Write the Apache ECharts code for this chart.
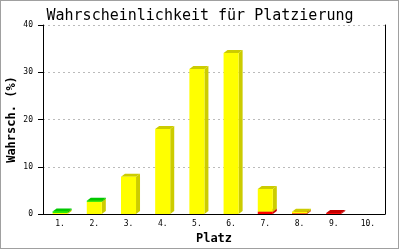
<!DOCTYPE html>
<html>
<head>
<meta charset="utf-8">
<script src="https://cdn.jsdelivr.net/npm/echarts@6/dist/echarts.min.js"></script>
<style>
  html, body { margin: 0; padding: 0; background: #fff; }
  #frame { position: absolute; left: 0; top: 0; width: 397px; height: 247px; border: 1px solid #a0a0a0; }
  #chart { position: absolute; left: 0; top: 0; width: 400px; height: 250px; }
</style>
</head>
<body>
<div id="frame"></div>
<div id="chart"></div>
<script>
// ---- data ----
const categories = ['1.', '2.', '3.', '4.', '5.', '6.', '7.', '8.', '9.', '10.'];
const redValues    = [0,   0,   0,   0,    0,    0,    0.5, 0.15, 0.2, 0];
const yellowValues = [0.25, 2.6, 7.9, 18.0, 30.7, 34.1, 4.8, 0.35, 0,   0];
const greenValues  = [0.3, 0.2, 0,   0,    0,    0,    0,   0,    0,   0];
const yTicks = [0, 10, 20, 30, 40];

const chart = echarts.init(document.getElementById('chart'), null, { renderer: 'canvas' });

const stackOrder = [
  { name: 'rot',  values: redValues,    front: '#ff0000', dark: '#c80000' },
  { name: 'gelb', values: yellowValues, front: '#ffff00', dark: '#cccc00' },
  { name: 'grün', values: greenValues,  front: '#00ee00', dark: '#00c800' }
];

const DX = 4, DY = 3;

function makeSeries(s, idx) {
  const data = categories.map((c, i) => {
    let base = 0;
    for (let k = 0; k < idx; k++) base += stackOrder[k].values[i];
    return [i, base, s.values[i]];
  });
  return {
    type: 'custom',
    name: s.name,
    encode: { x: 0, y: 1 },
    data: data,
    z: 2 + idx,
    renderItem: function (params, api) {
      const i = api.value(0), base = api.value(1), v = api.value(2);
      if (!(v > 0)) return null;
      const p0 = api.coord([i, base]);
      const p1 = api.coord([i, base + v]);
      const bw = api.size([1, 0])[0] * 0.44;
      const x0 = p0[0] - bw / 2, x1 = x0 + bw;
      const yb = p0[1], yt = p1[1];
      return {
        type: 'group',
        children: [
          { type: 'polygon', shape: { points: [[x1, yb], [x1 + DX, yb - DY], [x1 + DX, yt - DY], [x1, yt]] },
            style: { fill: s.dark } },
          { type: 'polygon', shape: { points: [[x0, yt], [x0 + DX, yt - DY], [x1 + DX, yt - DY], [x1, yt]] },
            style: { fill: s.dark } },
          { type: 'rect', shape: { x: x0, y: yt, width: bw, height: Math.max(yb - yt, 0.5) },
            style: { fill: s.front } }
        ]
      };
    }
  };
}

const mono = 'DejaVu Sans Mono';

chart.setOption({
  animation: false,
  backgroundColor: 'transparent',
  title: {
    text: 'Wahrscheinlichkeit für Platzierung',
    left: 'center',
    top: 4,
    textStyle: { fontFamily: mono, fontSize: 15, fontWeight: 'normal', color: '#000' }
  },
  grid: { left: 43, right: 15, top: 25, bottom: 36, containLabel: false, outerBoundsMode: 'none' },
  xAxis: {
    type: 'category',
    data: categories,
    name: 'Platz',
    nameLocation: 'middle',
    nameGap: 19,
    nameMoveOverlap: false,
    nameTextStyle: { fontFamily: mono, fontSize: 12, fontWeight: 'bold', color: '#000' },
    axisLine: { show: true, lineStyle: { color: '#000', width: 1 } },
    axisTick: { show: false },
    axisLabel: { fontFamily: mono, fontSize: 8, color: '#000', margin: 6 },
    splitLine: { show: false }
  },
  yAxis: [
    {
      type: 'value',
      min: yTicks[0],
      max: yTicks[yTicks.length - 1],
      interval: 10,
      name: 'Wahrsch. (%)',
      nameLocation: 'middle',
      nameGap: 25,
      nameMoveOverlap: false,
      nameTextStyle: { fontFamily: mono, fontSize: 12, fontWeight: 'bold', color: '#000' },
      axisLine: { show: true, lineStyle: { color: '#000', width: 1 } },
      axisTick: { show: true, inside: false, length: 5, lineStyle: { color: '#000' } },
      axisLabel: { fontFamily: mono, fontSize: 8, color: '#000', margin: 10 },
      splitLine: { show: true, lineStyle: { color: '#bbbbbb', type: [2, 3], width: 1 } }
    },
    {
      type: 'value',
      min: yTicks[0],
      max: yTicks[yTicks.length - 1],
      interval: 10,
      position: 'right',
      axisLine: { show: true, lineStyle: { color: '#000', width: 1 } },
      axisTick: { show: false },
      axisLabel: { show: false },
      splitLine: { show: false }
    }
  ],
  series: stackOrder.map(makeSeries)
});
</script>
</body>
</html>
